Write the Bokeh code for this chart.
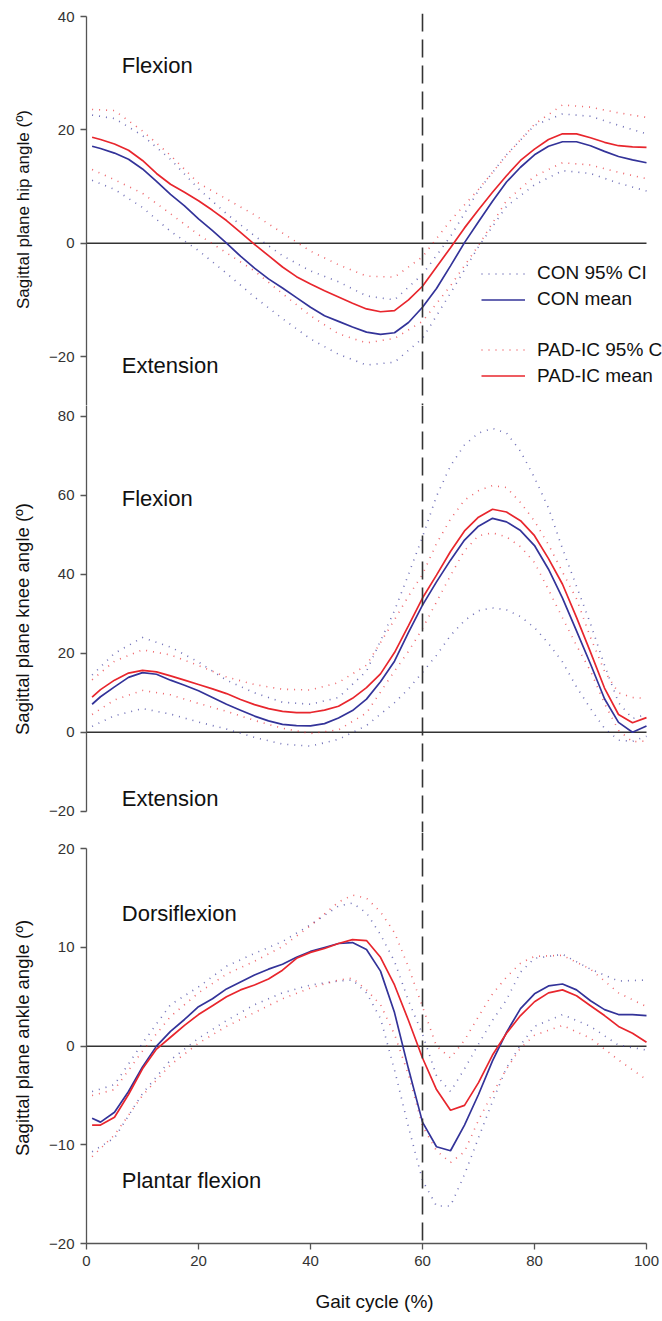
from bokeh.plotting import figure
from bokeh.layouts import column
from bokeh.models import Range1d, Span, Label, Legend, LegendItem, FixedTicker, BoxAnnotation
from bokeh.embed import file_html
from bokeh.resources import INLINE

# ---------------- data ----------------
# gait cycle (%) for the mean curves
X_MEAN = [1, 2.5, 5, 7.5, 10, 12.5, 15, 17.5, 20, 22.5, 25, 27.5, 30, 32.5, 35, 37.5, 40,
          42.5, 45, 47.5, 50, 52.5, 55, 57.5, 60, 62.5, 65, 67.5, 70, 72.5, 75, 77.5, 80,
          82.5, 85, 87.5, 90, 92.5, 95, 97.5, 100]
# gait cycle (%) at which the 95% CI curves were read
HIP_X_CI = [1, 5, 10, 15, 20, 25, 30, 35, 40, 45, 50, 55, 60, 65, 70, 75, 80, 85, 90, 95, 100]
KNEE_X_CI = [1, 5, 10, 15, 20, 25, 30, 35, 40, 45, 50, 55, 57.5, 60, 62.5, 65, 67.5, 70,
             72.5, 75, 77.5, 80, 82.5, 85, 87.5, 90, 92.5, 95, 97.5, 100]
ANKLE_X_CI = [1, 5, 10, 15, 20, 25, 30, 35, 40, 45, 47.5, 50, 52.5, 55, 57.5, 60, 62.5, 65,
              67.5, 70, 72.5, 75, 77.5, 80, 85, 90, 95, 100]

# Hip
HIP_CON_MEAN = [17.1, 16.7, 15.9, 14.8, 13.1, 10.9, 8.6, 6.6, 4.3, 2.2, 0.0, -2.3, -4.4, -6.3,
                -7.9, -9.6, -11.3, -12.8, -13.8, -14.8, -15.7, -16.1, -15.8, -14.0, -11.3,
                -8.0, -4.0, 0.1, 3.8, 7.4, 10.8, 13.4, 15.6, 17.1, 17.9, 17.9, 17.2, 16.2,
                15.3, 14.7, 14.2]
HIP_PAD_MEAN = [18.7, 18.3, 17.5, 16.4, 14.6, 12.3, 10.4, 9.0, 7.5, 5.8, 4.0, 1.9, -0.2, -2.2,
                -4.2, -5.9, -7.2, -8.4, -9.5, -10.6, -11.6, -12.1, -11.9, -10.0, -7.6, -4.2,
                -0.8, 2.7, 5.9, 9.0, 11.9, 14.6, 16.6, 18.3, 19.3, 19.3, 18.6, 17.8, 17.2,
                17.0, 16.9]
HIP_CON_HI = [22.6, 22.0, 19.0, 14.8, 9.6, 5.2, 1.3, -2.2, -4.9, -6.8, -9.3, -10.0, -5.5,
              1.2, 9.3, 15.6, 20.8, 22.8, 22.4, 20.8, 19.3]
HIP_CON_LO = [11.1, 9.5, 6.3, 2.1, -1.3, -5.3, -9.5, -13.3, -16.9, -19.6, -21.5, -21.0,
              -16.8, -8.8, -0.6, 6.5, 10.3, 12.8, 12.3, 10.6, 9.2]
HIP_PAD_HI = [23.6, 23.4, 19.8, 15.5, 10.6, 7.8, 5.0, 1.8, -1.4, -3.8, -5.8, -6.0, -2.4,
              4.0, 9.5, 15.5, 21.0, 24.4, 24.0, 23.0, 22.2]
HIP_PAD_LO = [13.0, 11.2, 8.8, 5.2, 1.5, -1.7, -4.9, -8.9, -12.8, -16.0, -17.6, -16.8,
              -13.8, -7.5, -0.4, 7.5, 11.8, 14.2, 13.8, 12.5, 11.4]

# Knee
KNEE_CON_MEAN = [7.1, 9.0, 11.5, 13.9, 15.1, 14.7, 13.2, 11.9, 10.5, 8.8, 7.1, 5.6, 4.1, 2.9,
                 2.0, 1.7, 1.6, 2.2, 3.6, 5.5, 8.4, 12.8, 18.0, 25.3, 32.2, 38.1, 43.6, 48.7,
                 52.2, 54.2, 53.3, 51.1, 47.3, 41.3, 34.0, 25.7, 17.3, 8.5, 2.5, 0.0, 1.6]
KNEE_PAD_MEAN = [8.9, 10.8, 13.2, 15.0, 15.7, 15.3, 14.3, 13.2, 12.1, 11.0, 9.8, 8.3, 7.0,
                 6.0, 5.3, 5.0, 5.0, 5.6, 6.6, 8.6, 11.3, 14.8, 20.2, 27.0, 34.0, 39.8, 45.8,
                 51.0, 54.5, 56.5, 55.8, 53.6, 49.8, 44.0, 37.5, 29.1, 20.3, 11.2, 4.5, 2.4,
                 3.7]
KNEE_CON_HI = [14.5, 20.0, 24.0, 21.6, 17.8, 13.2, 10.0, 7.6, 7.1, 8.8, 15.5, 30.8, 40.0,
               49.5, 59.8, 67.5, 72.8, 75.8, 77.0, 75.8, 71.2, 64.5, 56.8, 46.5, 37.0, 27.5,
               17.0, 7.5, 3.5, 4.5]
KNEE_CON_LO = [1.5, 4.2, 6.0, 4.6, 2.6, 0.8, -1.3, -3.0, -3.5, -1.8, 1.7, 7.5, 11.0, 15.2,
               19.5, 24.5, 28.3, 30.8, 31.5, 31.0, 29.3, 26.5, 22.5, 17.8, 11.5, 6.0, 1.0,
               -2.0, -2.3, -1.0]
KNEE_PAD_HI = [13.3, 18.0, 20.9, 19.6, 16.9, 14.0, 12.1, 10.9, 10.7, 12.6, 17.0, 28.5, 34.5,
               40.0, 47.8, 54.0, 58.8, 61.2, 62.5, 62.0, 58.2, 53.5, 47.5, 40.6, 33.8, 24.0,
               15.5, 10.0, 8.8, 8.6]
KNEE_PAD_LO = [4.5, 8.2, 10.6, 9.5, 7.3, 5.3, 3.0, 1.0, -0.3, 0.6, 4.9, 15.5, 20.5, 26.3,
               33.0, 39.7, 46.0, 49.8, 50.5, 49.5, 47.0, 43.0, 36.1, 29.0, 22.0, 15.5, 7.3,
               0.5, -2.4, -2.2]

# Ankle
ANKLE_CON_MEAN = [-7.3, -7.7, -6.7, -4.6, -2.1, 0.0, 1.5, 2.7, 4.0, 4.8, 5.8, 6.5, 7.2, 7.8,
                  8.3, 9.0, 9.6, 10.0, 10.4, 10.5, 9.8, 7.6, 3.4, -2.3, -7.7, -10.2, -10.6,
                  -8.0, -4.9, -1.5, 1.4, 3.8, 5.3, 6.1, 6.3, 5.7, 4.6, 3.7, 3.2, 3.2, 3.1]
ANKLE_PAD_MEAN = [-8.0, -8.0, -7.2, -4.9, -2.3, -0.3, 0.9, 2.1, 3.2, 4.1, 5.0, 5.7, 6.2, 6.8,
                  7.7, 8.9, 9.5, 9.9, 10.4, 10.8, 10.7, 9.0, 6.2, 2.6, -1.2, -4.4, -6.5, -6.0,
                  -3.7, -0.9, 1.3, 3.1, 4.5, 5.4, 5.7, 5.1, 4.1, 3.1, 2.0, 1.3, 0.4]
ANKLE_CON_HI = [-4.6, -3.9, 0.3, 4.2, 6.0, 8.1, 9.4, 10.6, 12.3, 14.2, 14.5, 13.5, 11.3, 8.6,
                4.6, 1.2, -3.0, -4.6, -2.3, 0.2, 2.6, 4.7, 7.5, 8.9, 9.3, 7.8, 6.6, 6.7]
ANKLE_CON_LO = [-10.7, -9.3, -4.8, -1.4, 0.8, 2.6, 4.2, 5.4, 6.2, 6.6, 6.7, 5.4, 2.8, -2.4,
                -8.2, -13.6, -16.2, -16.2, -13.0, -9.3, -5.6, -2.2, 0.1, 2.0, 3.2, 2.0, 0.1,
                -0.4]
ANKLE_PAD_HI = [-5.0, -4.4, -0.5, 3.0, 5.4, 7.3, 8.6, 10.1, 12.2, 14.6, 15.3, 15.0, 13.6,
                11.5, 8.0, 4.0, 0.0, -1.2, 0.6, 3.0, 5.3, 7.0, 8.4, 9.1, 9.2, 7.8, 5.4, 4.0]
ANKLE_PAD_LO = [-11.2, -9.0, -5.0, -1.9, 0.3, 2.0, 3.4, 4.8, 5.9, 6.7, 6.9, 5.7, 4.2, 1.2,
                -2.9, -8.1, -10.6, -11.8, -10.7, -7.5, -4.8, -2.3, -0.2, 1.1, 2.1, 0.8, -1.4,
                -3.4]

X_TICKS = [0, 20, 40, 60, 80, 100]
HIP_TICKS = [-20, 0, 20, 40]
KNEE_TICKS = [-20, 0, 20, 40, 60, 80]
ANKLE_TICKS = [-20, -10, 0, 10, 20]
LEGEND_LABELS = ["CON 95% CI", "CON mean", "PAD-IC 95% CI", "PAD-IC mean"]

# ---------------- style ----------------
FONT = "Liberation Sans"
BLUE = "#333399"
RED = "#e8262d"
AXIS = "#555555"
TEXT = "#111111"
CI_DASH = "1 6"
X_END = 102.857   # frame runs to the right edge of the page; the cycle ends at 100


def make_panel(height, top, bottom, y_start, y_end, ticks, bounds, ylabel, ylabel_size,
               x_ci, con_mean, pad_mean, con_hi, con_lo, pad_hi, pad_lo, show_x):
    p = figure(width=662, height=height, x_range=Range1d(0, X_END),
               y_range=Range1d(y_start, y_end), output_backend="svg",
               toolbar_location=None, x_axis_location="below" if show_x else None,
               min_border=0, min_border_left=86, min_border_right=0,
               min_border_top=top, min_border_bottom=bottom)
    p.outline_line_color = None
    p.grid.visible = False
    p.background_fill_color = "white"
    p.border_fill_color = "white"

    ax = p.yaxis[0]
    ax.ticker = FixedTicker(ticks=ticks)
    ax.bounds = bounds
    ax.axis_line_color = AXIS
    ax.axis_line_width = 1.3
    ax.major_tick_line_color = AXIS
    ax.major_tick_line_width = 1.3
    ax.major_tick_out = 6
    ax.major_tick_in = 0
    ax.minor_tick_line_color = None
    ax.major_label_text_font = FONT
    ax.major_label_text_font_size = "15px"
    ax.major_label_text_color = "#333333"
    ax.major_label_standoff = 6
    ax.axis_label = ylabel
    ax.axis_label_text_font = FONT
    ax.axis_label_text_font_size = ylabel_size
    ax.axis_label_text_font_style = "normal"
    ax.axis_label_text_color = TEXT
    ax.axis_label_standoff = 13

    if show_x:
        xa = p.xaxis[0]
        xa.ticker = FixedTicker(ticks=X_TICKS)
        xa.bounds = (X_TICKS[0], X_TICKS[-1])
        xa.axis_line_color = AXIS
        xa.axis_line_width = 1.3
        xa.major_tick_line_color = AXIS
        xa.major_tick_line_width = 1.3
        xa.major_tick_out = 6
        xa.major_tick_in = 0
        xa.minor_tick_line_color = None
        xa.major_label_text_font = FONT
        xa.major_label_text_font_size = "15px"
        xa.major_label_text_color = "#333333"
        xa.major_label_standoff = 6
        xa.axis_label = "Gait cycle (%)"
        xa.axis_label_text_font = FONT
        xa.axis_label_text_font_size = "19px"
        xa.axis_label_text_font_style = "normal"
        xa.axis_label_text_color = TEXT
        xa.axis_label_standoff = 22

    # zero reference line, spanning the gait cycle only
    p.add_layout(BoxAnnotation(left=X_TICKS[0], right=X_TICKS[-1], bottom=0, top=0,
                               fill_alpha=0, line_color="#333333", line_alpha=1.0,
                               line_width=1.5, level="underlay"))

    r_con_hi = p.line(x_ci, con_hi, line_color=BLUE, line_width=1.6, line_dash=CI_DASH,
                      line_alpha=0.7)
    p.line(x_ci, con_lo, line_color=BLUE, line_width=1.6, line_dash=CI_DASH, line_alpha=0.7)
    r_pad_hi = p.line(x_ci, pad_hi, line_color=RED, line_width=1.6, line_dash=CI_DASH,
                      line_alpha=0.7)
    p.line(x_ci, pad_lo, line_color=RED, line_width=1.6, line_dash=CI_DASH, line_alpha=0.7)
    r_con = p.line(X_MEAN, con_mean, line_color=BLUE, line_width=1.7)
    r_pad = p.line(X_MEAN, pad_mean, line_color=RED, line_width=1.7)

    # toe-off marker at 60 % of the gait cycle
    p.add_layout(Span(location=60, dimension="height", line_color="#333333",
                      line_width=1.6, line_dash="18 8"))
    return p, (r_con_hi, r_con, r_pad_hi, r_pad)


def add_label(p, x, y, text):
    p.add_layout(Label(x=x, y=y, text=text, text_font=FONT, text_font_size="22px",
                       text_color=TEXT, text_baseline="alphabetic"))


# Hip panel: frame 13 px -> 405 px
hip, hip_r = make_panel(405, 13, 0, -28.64, 40.53, HIP_TICKS, (-28.64, 40),
                        "Sagittal plane hip angle (º)", "17px", HIP_X_CI,
                        HIP_CON_MEAN, HIP_PAD_MEAN, HIP_CON_HI, HIP_CON_LO,
                        HIP_PAD_HI, HIP_PAD_LO, False)
add_label(hip, 6.3, 31.35, "Flexion")
add_label(hip, 6.3, -21.6, "Extension")

legend_style = dict(glyph_width=44, glyph_height=23, label_height=23, spacing=3, padding=0,
                    margin=0, label_standoff=12, border_line_color=None,
                    background_fill_alpha=0, label_text_font=FONT,
                    label_text_font_size="19px", label_text_color=TEXT)
leg1 = Legend(items=[LegendItem(label=LEGEND_LABELS[0], renderers=[hip_r[0]]),
                     LegendItem(label=LEGEND_LABELS[1], renderers=[hip_r[1]])],
              location=(395, 94.5), **legend_style)
leg2 = Legend(items=[LegendItem(label=LEGEND_LABELS[2], renderers=[hip_r[2]]),
                     LegendItem(label=LEGEND_LABELS[3], renderers=[hip_r[3]])],
              location=(395, 17.8), **legend_style)
hip.add_layout(leg1)
hip.add_layout(leg2)

# Knee panel: frame 405 px -> 832 px
knee, _ = make_panel(427, 0, 0, -25.39, 82.78, KNEE_TICKS, (-20, 82.78),
                     "Sagittal plane knee angle (º)", "18.5px", KNEE_X_CI,
                     KNEE_CON_MEAN, KNEE_PAD_MEAN, KNEE_CON_HI, KNEE_CON_LO,
                     KNEE_PAD_HI, KNEE_PAD_LO, False)
add_label(knee, 6.3, 59.1, "Flexion")
add_label(knee, 6.3, -16.7, "Extension")

# Ankle panel: frame 832 px -> 1243 px
ankle, _ = make_panel(489, 0, 78, -20, 21.65, ANKLE_TICKS, (-20, 20),
                      "Sagittal plane ankle angle (º)", "18.5px", ANKLE_X_CI,
                      ANKLE_CON_MEAN, ANKLE_PAD_MEAN, ANKLE_CON_HI, ANKLE_CON_LO,
                      ANKLE_PAD_HI, ANKLE_PAD_LO, True)
add_label(ankle, 6.3, 13.4, "Dorsiflexion")
add_label(ankle, 6.3, -13.6, "Plantar flexion")

layout = column(hip, knee, ankle, spacing=0)
open("out.html", "w").write(file_html(layout, INLINE))
